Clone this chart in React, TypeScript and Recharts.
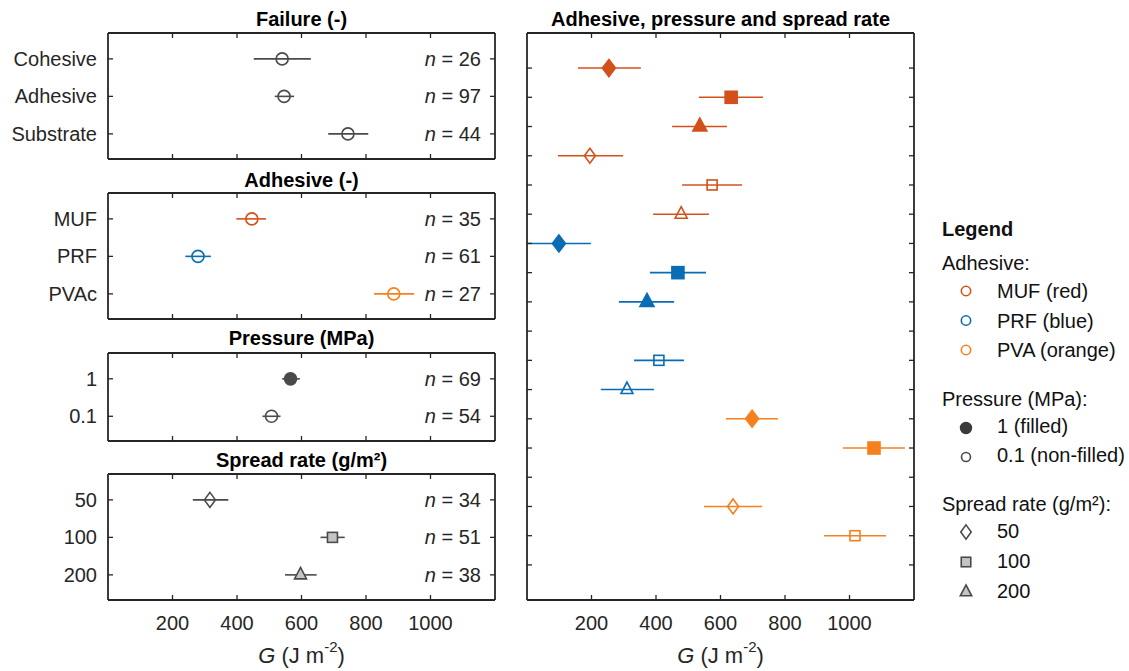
import React from 'react'
import { ScatterChart, Scatter, XAxis, YAxis, ErrorBar } from 'recharts'

const FONT = '"Liberation Sans", Arial, Helvetica, sans-serif'
const INK = '#262626'
const GREY = '#4a4a4a'
const LIGHT = '#c4c4c4'
const FS = 20

// x axis (G, J m-2), shared by all panels
const xTicks = [200, 400, 600, 800, 1000]

// Failure (-)
const failureCats = ['Cohesive', 'Adhesive', 'Substrate']
const failureG = [540, 546, 744]
const failureLo = [452, 517, 683]
const failureHi = [629, 577, 807]
const failureN = [26, 97, 44]

// Adhesive (-)
const adhesiveCats = ['MUF', 'PRF', 'PVAc']
const adhesiveG = [446, 279, 886]
const adhesiveLo = [398, 240, 825]
const adhesiveHi = [490, 319, 949]
const adhesiveN = [35, 61, 27]

// Pressure (MPa)
const pressureCats = ['1', '0.1']
const pressureG = [566, 507]
const pressureLo = [540, 479]
const pressureHi = [595, 535]
const pressureN = [69, 54]

// Spread rate (g/m2)
const spreadCats = ['50', '100', '200']
const spreadG = [316, 696, 597]
const spreadLo = [263, 659, 549]
const spreadHi = [373, 734, 647]
const spreadN = [34, 51, 38]

// Adhesive x pressure x spread rate (row order: adhesive, pressure, spread)
const adhesives = ['MUF', 'PRF', 'PVA']
const pressures = [1, 0.1]
const spreads = [50, 100, 200]
const comboG = [254, 633, 536, 195, 574, 478, 99, 468, 372, null, 409, 310, 698, 1076, null, 639, 1017, null]
const comboLo = [158, 533, 450, 96, 481, 391, 0, 381, 285, null, 332, 229, 617, 980, null, 549, 921, null]
const comboHi = [353, 732, 620, 298, 667, 564, 198, 555, 456, null, 487, 394, 778, 1172, null, 729, 1113, null]

const adhesiveColor: Record<string, string> = {
  MUF: '#D4501A',
  PRF: '#0A6CB4',
  PVA: '#F7801E',
  PVAc: '#F7801E',
}
const spreadShape: Record<string, string> = { '50': 'diamond', '100': 'square', '200': 'triangle' }

type Row = { y: number; g: number; err: [number, number]; cat: string; adhesive?: string; pressure?: number; spread?: number }
type Style = { color: string; shape: string; filled: boolean; fillColor?: string }

function rowsOf(cats: string[], g: (number | null)[], lo: (number | null)[], hi: (number | null)[]): Row[] {
  const out: Row[] = []
  cats.forEach((c, i) => {
    const v = g[i]
    if (v == null) return
    out.push({ y: i + 1, g: v, err: [v - (lo[i] as number), (hi[i] as number) - v], cat: c })
  })
  return out
}

function comboRows(): Row[] {
  const out: Row[] = []
  let i = 0
  adhesives.forEach((a) =>
    pressures.forEach((p) =>
      spreads.forEach((s) => {
        const v = comboG[i]
        if (v != null) {
          out.push({
            y: i + 1,
            g: v,
            err: [v - (comboLo[i] as number), (comboHi[i] as number) - v],
            cat: `${a} ${p} ${s}`,
            adhesive: a,
            pressure: p,
            spread: s,
          })
        }
        i++
      }),
    ),
  )
  return out
}

function Glyph({ cx, cy, shape, filled, color, fillColor, k = 1 }: Style & { cx: number; cy: number; k?: number }) {
  const fill = filled ? color : fillColor ?? 'none'
  const sw = 1.6
  if (shape === 'diamond') {
    const w = (filled ? 6.5 : 5.5) * k
    const h = (filled ? 8.5 : 7.5) * k
    return <polygon points={`${cx},${cy - h} ${cx + w},${cy} ${cx},${cy + h} ${cx - w},${cy}`} fill={fill} stroke={color} strokeWidth={sw} />
  }
  if (shape === 'square') {
    const s = (filled ? 6 : 5) * k
    return <rect x={cx - s} y={cy - s} width={2 * s} height={2 * s} fill={fill} stroke={color} strokeWidth={sw} />
  }
  if (shape === 'triangle') {
    const w = (filled ? 7 : 6) * k
    const up = (filled ? 8.5 : 7.5) * k
    const dn = (filled ? 4.5 : 4) * k
    return <polygon points={`${cx},${cy - up} ${cx + w},${cy + dn} ${cx - w},${cy + dn}`} fill={fill} stroke={color} strokeWidth={sw} />
  }
  return <circle cx={cx} cy={cy} r={6 * k} fill={fill} stroke={color} strokeWidth={sw} />
}

const AXIS = { stroke: INK, strokeWidth: 1.8 }
const TL = 5

const bottomTick = (labels: boolean) => (p: any) => (
  <g>
    <line x1={p.x} x2={p.x} y1={p.y} y2={p.y - TL} stroke={INK} strokeWidth={1.3} />
    {labels && (
      <text x={p.x} y={p.y + 23} textAnchor="middle" dominantBaseline="central" fontFamily={FONT} fontSize={FS} fill={INK}>
        {p.payload.value}
      </text>
    )}
  </g>
)

const topTick = (p: any) => <line x1={p.x} x2={p.x} y1={p.y} y2={p.y + TL} stroke={INK} strokeWidth={1.3} />

const leftTick = (cats: string[] | null) => (p: any) => (
  <g>
    <line x1={p.x} x2={p.x + TL} y1={p.y} y2={p.y} stroke={INK} strokeWidth={1.3} />
    {cats && (
      <text x={p.x - 11} y={p.y} textAnchor="end" dominantBaseline="central" fontFamily={FONT} fontSize={FS} fill={INK}>
        {cats[p.payload.value - 1]}
      </text>
    )}
  </g>
)

const rightTick = (counts: number[] | null) => (p: any) => (
  <g>
    <line x1={p.x} x2={p.x - TL} y1={p.y} y2={p.y} stroke={INK} strokeWidth={1.3} />
    {counts && (
      <text x={p.x - 14} y={p.y} textAnchor="end" dominantBaseline="central" fontFamily={FONT} fontSize={FS} fill={INK}>
        <tspan fontStyle="italic">n</tspan> = {counts[p.payload.value - 1]}
      </text>
    )}
  </g>
)

type PanelProps = {
  plotLeft: number
  plotTop: number
  plotHeight: number
  domain: [number, number]
  count: number
  rows: Row[]
  cats: string[] | null
  counts: number[] | null
  xLabels: boolean
  styleOf: (r: Row) => Style
}

const PLOT_W = 387

function Panel({ plotLeft, plotTop, plotHeight, domain, count, rows, cats, counts, xLabels, styleOf }: PanelProps) {
  const groups = new Map<string, Row[]>()
  rows.forEach((r) => {
    const c = styleOf(r).color
    if (!groups.has(c)) groups.set(c, [])
    groups.get(c)!.push(r)
  })
  const yTicks = Array.from({ length: count }, (_, i) => i + 1)
  const bottomH = xLabels ? 44 : 6
  return (
    <div style={{ position: 'absolute', left: plotLeft - 108, top: plotTop - 10 }}>
      <ScatterChart width={108 + PLOT_W + 10} height={10 + plotHeight + bottomH} margin={{ top: 0, right: 0, bottom: 0, left: 8 }}>
        <XAxis xAxisId="b" type="number" dataKey="g" orientation="bottom" domain={[0, 1200]} ticks={xTicks} interval={0}
          height={bottomH} tickSize={0} tickMargin={0} tickLine={false} axisLine={AXIS} tick={bottomTick(xLabels)} />
        <XAxis xAxisId="t" type="number" dataKey="g" orientation="top" domain={[0, 1200]} ticks={xTicks} interval={0}
          height={10} tickSize={0} tickMargin={0} tickLine={false} axisLine={AXIS} tick={topTick} />
        <YAxis yAxisId="l" type="number" dataKey="y" orientation="left" domain={domain} ticks={yTicks} interval={0} reversed
          width={100} tickSize={0} tickMargin={0} tickLine={false} axisLine={AXIS} tick={leftTick(cats)} />
        <YAxis yAxisId="r" type="number" dataKey="y" orientation="right" domain={domain} ticks={yTicks} interval={0} reversed
          width={10} tickSize={0} tickMargin={0} tickLine={false} axisLine={AXIS} tick={rightTick(counts)} />
        {[...groups.entries()].map(([color, data]) => (
          <Scatter key={color} xAxisId="b" yAxisId="l" data={data} isAnimationActive={false}
            shape={(p: any) => <Glyph cx={p.cx} cy={p.cy} {...styleOf(p.payload)} />}>
            <ErrorBar dataKey="err" direction="x" width={0} stroke={color} strokeWidth={1.6} isAnimationActive={false} />
          </Scatter>
        ))}
        <Scatter xAxisId="t" yAxisId="r" data={rows} isAnimationActive={false} shape={() => <g />} />
      </ScatterChart>
    </div>
  )
}

const greyCircle = (): Style => ({ color: GREY, shape: 'circle', filled: false })

function AxisTitle({ x }: { x: number }) {
  return (
    <text x={x} y={655} textAnchor="middle" dominantBaseline="central" fontFamily={FONT} fontSize={22} fill={INK}>
      <tspan fontStyle="italic">G</tspan> (J m<tspan dy={-9} fontSize={15}>-2</tspan><tspan dy={9}>)</tspan>
    </text>
  )
}

function Title({ x, y, children }: { x: number; y: number; children: React.ReactNode }) {
  return (
    <text x={x} y={y} textAnchor="middle" dominantBaseline="central" fontFamily={FONT} fontSize={FS} fontWeight="bold" fill="#000">
      {children}
    </text>
  )
}

function LegendText({ x, y, children, bold }: { x: number; y: number; children: React.ReactNode; bold?: boolean }) {
  return (
    <text x={x} y={y} dominantBaseline="central" fontFamily={FONT} fontSize={FS} fontWeight={bold ? 'bold' : 'normal'} fill="#111">
      {children}
    </text>
  )
}

export default function App() {
  const leftC = 108 + PLOT_W / 2
  const rightC = 527 + PLOT_W / 2
  const mx = 966
  const tx = 997
  return (
    <div style={{ position: 'absolute', left: 0, top: 0, width: 1129, height: 671, background: '#fff', fontFamily: FONT }}>
      <Panel plotLeft={108} plotTop={33} plotHeight={126} domain={[0.31, 3.67]} count={3}
        rows={rowsOf(failureCats, failureG, failureLo, failureHi)} cats={failureCats} counts={failureN} xLabels={false}
        styleOf={greyCircle} />
      <Panel plotLeft={108} plotTop={193} plotHeight={126} domain={[0.31, 3.67]} count={3}
        rows={rowsOf(adhesiveCats, adhesiveG, adhesiveLo, adhesiveHi)} cats={adhesiveCats} counts={adhesiveN} xLabels={false}
        styleOf={(r) => ({ color: adhesiveColor[r.cat], shape: 'circle', filled: false })} />
      <Panel plotLeft={108} plotTop={353} plotHeight={88} domain={[0.31, 2.66]} count={2}
        rows={rowsOf(pressureCats, pressureG, pressureLo, pressureHi)} cats={pressureCats} counts={pressureN} xLabels={false}
        styleOf={(r) => ({ color: GREY, shape: 'circle', filled: r.cat === '1' })} />
      <Panel plotLeft={108} plotTop={474} plotHeight={126} domain={[0.31, 3.67]} count={3}
        rows={rowsOf(spreadCats, spreadG, spreadLo, spreadHi)} cats={spreadCats} counts={spreadN} xLabels={true}
        styleOf={(r) => ({ color: GREY, shape: spreadShape[r.cat], filled: false, fillColor: r.cat === '50' ? 'none' : LIGHT })} />
      <Panel plotLeft={527} plotTop={33} plotHeight={567} domain={[-0.2, 19.2]} count={18}
        rows={comboRows()} cats={null} counts={null} xLabels={true}
        styleOf={(r) => ({ color: adhesiveColor[r.adhesive as string], shape: spreadShape[String(r.spread)], filled: r.pressure === 1 })} />

      <svg width={1129} height={671} style={{ position: 'absolute', left: 0, top: 0, pointerEvents: 'none' }}>
        <Title x={leftC} y={19}>Failure (-)</Title>
        <Title x={leftC} y={180}>Adhesive (-)</Title>
        <Title x={leftC} y={338}>Pressure (MPa)</Title>
        <Title x={leftC} y={460}>Spread rate (g/m²)</Title>
        <Title x={rightC} y={19}>Adhesive, pressure and spread rate</Title>
        <AxisTitle x={leftC} />
        <AxisTitle x={rightC} />

        <LegendText x={942} y={229} bold>Legend</LegendText>
        <LegendText x={942} y={263}>Adhesive:</LegendText>
        {adhesives.map((a, i) => (
          <g key={a}>
            <Glyph cx={mx} cy={291 + i * 29.5} shape="circle" filled={false} color={adhesiveColor[a]} k={0.78} />
            <LegendText x={tx} y={291 + i * 29.5}>{`${a} (${['red', 'blue', 'orange'][i]})`}</LegendText>
          </g>
        ))}
        <LegendText x={942} y={399}>Pressure (MPa):</LegendText>
        <Glyph cx={mx} cy={428} shape="circle" filled color="#3a3a3a" k={0.9} />
        <LegendText x={tx} y={426}>1 (filled)</LegendText>
        <Glyph cx={mx} cy={457} shape="circle" filled={false} color={GREY} k={0.75} />
        <LegendText x={tx} y={455}>0.1 (non-filled)</LegendText>
        <LegendText x={942} y={504}>Spread rate (g/m²):</LegendText>
        {spreads.map((s, i) => (
          <g key={s}>
            <Glyph cx={mx} cy={532 + i * 30} shape={spreadShape[String(s)]} filled={false} color={GREY}
              fillColor={s === 50 ? 'none' : LIGHT} k={0.95} />
            <LegendText x={tx} y={531 + i * 30}>{s}</LegendText>
          </g>
        ))}
      </svg>
    </div>
  )
}
